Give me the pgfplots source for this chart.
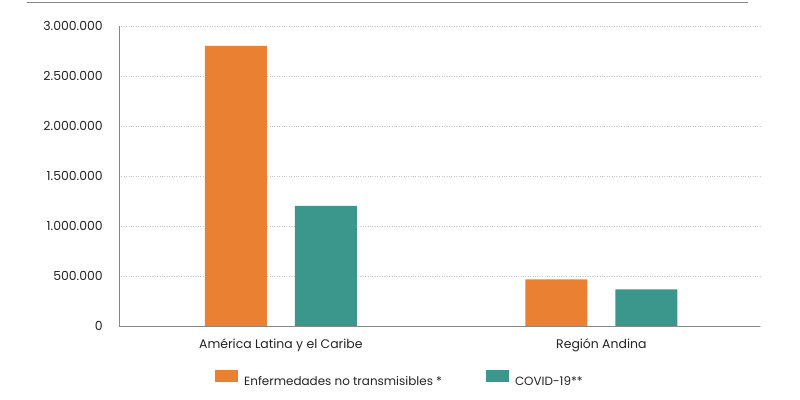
\documentclass[border=0pt]{standalone}
\usepackage{pgfplots}
\pgfplotsset{compat=1.18}
\usepackage{fontspec}
\setmainfont{Poppins}
\definecolor{naranja}{RGB}{233,128,50}
\definecolor{verde}{RGB}{59,150,139}
\definecolor{ejegris}{RGB}{135,135,135}
\definecolor{textogris}{RGB}{35,35,35}

\begin{document}
\begin{tikzpicture}
\useasboundingbox (0,0) rectangle (800bp,400bp);
% linea superior
\draw[ejegris, line width=1bp] (27bp,397bp) -- (748bp,397bp);
\begin{axis}[
  at={(119bp,74bp)}, anchor=south west,
  scale only axis, width=641bp, height=300bp,
  ybar=28bp, bar width=62bp,
  xmin=-0.505, xmax=1.495, ymin=0, ymax=3000000,
  xtick=data,
  xticklabels={América Latina y el Caribe, Región Andina},
  ytick={0,500000,1000000,1500000,2000000,2500000,3000000},
  scaled y ticks=false,
  yticklabel style={/pgf/number format/fixed,
    /pgf/number format/precision=0,
    /pgf/number format/1000 sep={.},
    /pgf/number format/assume math mode=true},
  axis lines=left,
  axis line style={ejegris, line width=0.9bp, -},
  major tick length=0pt,
  ymajorgrids,
  grid style={dotted, line width=0.6bp, black!22},
  tick label style={font=\fontsize{12.5}{14}\selectfont, text=textogris, inner sep=0pt},
  yticklabel style={anchor=east, xshift=-16bp},
  xticklabel style={anchor=base, yshift=-22.5bp},
  legend style={
    at={(0.1498,-0.145)}, anchor=north west,
    draw=none, fill=none, inner sep=0pt,
    font=\fontsize{12}{14}\selectfont, text=textogris,
    nodes={inner sep=0pt},
    /tikz/every odd column/.append style={column sep=6bp},
    /tikz/every even column/.append style={column sep=44bp},
  },
  legend columns=2,
  legend cell align=left,
]
\addplot[fill=naranja, draw=none,
  legend image code/.code={\fill[naranja] (0bp,-1bp) rectangle (23bp,11.7bp);}]
  coordinates {(0,2800000) (1,467000)};
\addplot[fill=verde, draw=none,
  legend image code/.code={\fill[verde] (0bp,-1bp) rectangle (23bp,11.7bp);}]
  coordinates {(0,1200000) (1,367000)};
\legend{Enfermedades no transmisibles *, COVID-19**}
\end{axis}
\end{tikzpicture}
\end{document}
